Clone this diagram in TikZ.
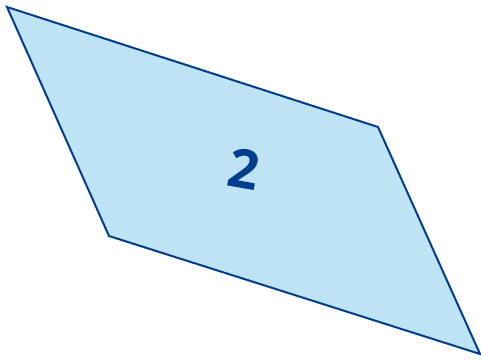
\documentclass[tikz,border=0pt]{standalone}
\usepackage{fontspec}
\setsansfont{Open Sans}
\usepackage{tikz}
\definecolor{facefill}{RGB}{189, 227, 245}
\definecolor{edgeblue}{RGB}{0, 61, 143}

\begin{document}
\begin{tikzpicture}[
  x=1pt, y=-1pt,
  face/.style={draw=edgeblue, fill=facefill, line width=2pt, line join=miter},
  facelabel/.style={font=\fontsize{54}{54}\selectfont\sffamily\bfseries, text=edgeblue, inner sep=0pt, rotate=-10},
]

\useasboundingbox (0, 0) rectangle (481, 361);

% corners of the parallelogram
\coordinate (tl) at (7, 7);
\coordinate (tr) at (378, 127);
\coordinate (br) at (480, 354);
\coordinate (bl) at (109, 236);

\draw[face] (tl) -- (tr) -- (br) -- (bl) -- cycle;

\node[facelabel] (num) at (244, 169) {2};

\end{tikzpicture}
\end{document}
